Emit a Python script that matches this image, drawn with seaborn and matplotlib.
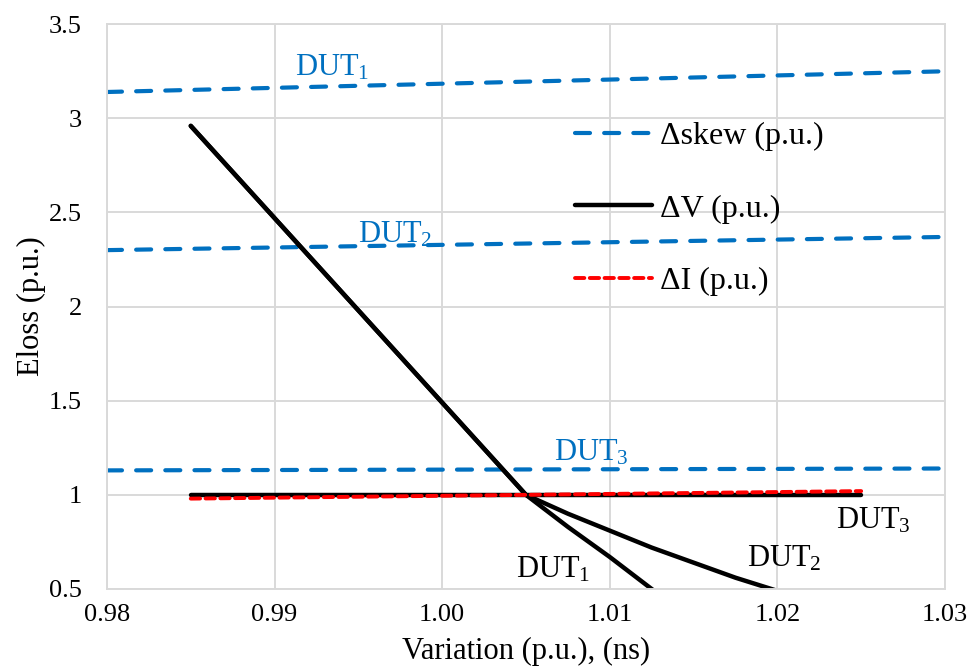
import matplotlib
matplotlib.use("Agg")
import matplotlib.pyplot as plt
from matplotlib.lines import Line2D
import seaborn as sns
import pandas as pd

# Skew sensitivity (blue dashed), one line per DUT
skew_x = [0.98, 1.03]
skew_dut1 = [3.14, 3.25]
skew_dut2 = [2.30, 2.37]
skew_dut3 = [1.13, 1.14]

# Voltage sensitivity (black solid)
v_x = [0.985, 0.99, 0.995, 1.00, 1.005, 1.0075, 1.01, 1.0125, 1.015, 1.0175, 1.02, 1.025]
v_dut1 = [2.96, 2.47, 1.98, 1.49, 1.00, 0.83, 0.67, 0.50, 0.33, None, None, None]
v_dut2 = [2.96, 2.47, 1.98, 1.49, 1.00, 0.90, 0.81, 0.72, 0.64, 0.56, 0.49, None]
v_dut3 = [1.00, 1.00, 1.00, 1.00, 1.00, 1.00, 1.00, 1.00, 1.00, 1.00, 1.00, 1.00]

# Current sensitivity (red dashed)
i_x = [0.985, 1.025]
i_vals = [0.98, 1.02]

x_ticks = [0.98, 0.99, 1.00, 1.01, 1.02, 1.03]
x_tick_labels = ["0.98", "0.99", "1.00", "1.01", "1.02", "1.03"]
y_ticks = [0.5, 1.0, 1.5, 2.0, 2.5, 3.0, 3.5]
y_tick_labels = ["0.5", "1", "1.5", "2", "2.5", "3", "3.5"]

sns.set_theme(style="white")
plt.rcParams["font.family"] = ["Liberation Serif", "DejaVu Serif"]
plt.rcParams["mathtext.fontset"] = "custom"
plt.rcParams["mathtext.rm"] = "Liberation Serif"
plt.rcParams["mathtext.it"] = "Liberation Serif:italic"
plt.rcParams["text.color"] = "black"
plt.rcParams["axes.labelcolor"] = "black"
plt.rcParams["xtick.color"] = "black"
plt.rcParams["ytick.color"] = "black"

BLUE = "#0070C0"
RED = "#FF0000"
BLACK = "#000000"
GRID = "#D9D9D9"

fig = plt.figure(figsize=(9.76, 6.69), dpi=100)
ax = fig.add_axes([0.1096, 0.1196, 0.8586, 0.8442])

def draw(xs, ys, color, dashes=None, lw=3.0):
    df = pd.DataFrame({"x": xs, "y": ys}).dropna()
    sns.lineplot(data=df, x="x", y="y", ax=ax, color=color, linewidth=lw,
                 sort=False, estimator=None)
    line = ax.lines[-1]
    if dashes is not None:
        line.set_dashes(dashes)
        line.set_dash_capstyle("round")
    line.set_solid_capstyle("round")
    line.set_solid_joinstyle("round")
    return line

blue_dash = (3.6, 3.4)
draw(skew_x, skew_dut1, BLUE, blue_dash, 3.0)
draw(skew_x, skew_dut2, BLUE, blue_dash, 3.0)
draw(skew_x, skew_dut3, BLUE, blue_dash, 3.0)

draw(v_x, v_dut3, BLACK, None, 3.2)
draw(v_x, v_dut2, BLACK, None, 3.2)
draw(v_x, v_dut1, BLACK, None, 3.2)

draw(i_x, i_vals, RED, (2.4, 1.4), 2.8)

ax.set_xlim(0.98, 1.03)
ax.set_ylim(0.5, 3.5)
ax.set_xticks(x_ticks)
ax.set_xticklabels(x_tick_labels)
ax.set_yticks(y_ticks)
ax.set_yticklabels(y_tick_labels)
ax.grid(True, color=GRID, linewidth=1.4)
ax.set_axisbelow(True)
for s in ax.spines.values():
    s.set_color(GRID)
    s.set_linewidth(1.4)
ax.tick_params(axis="both", length=0, labelsize=19)
ax.tick_params(axis="x", pad=11)
ax.tick_params(axis="y", pad=18)

ax.set_xlabel("Variation (p.u.), (ns)", fontsize=22, labelpad=8)
ax.set_ylabel("Eloss (p.u.)", fontsize=22, labelpad=2)

# Series annotations
lab_kw = dict(fontsize=22, ha="left", va="baseline")
ax.text(0.9912, 3.23, r"$\mathrm{DUT}_1$", color=BLUE, **lab_kw)
ax.text(0.9950, 2.34, r"$\mathrm{DUT}_2$", color=BLUE, **lab_kw)
ax.text(1.0067, 1.18, r"$\mathrm{DUT}_3$", color=BLUE, **lab_kw)
ax.text(1.0044, 0.56, r"$\mathrm{DUT}_1$", color=BLACK, **lab_kw)
ax.text(1.0182, 0.62, r"$\mathrm{DUT}_2$", color=BLACK, **lab_kw)
ax.text(1.0235, 0.82, r"$\mathrm{DUT}_3$", color=BLACK, **lab_kw)

handles = [
    Line2D([], [], color=BLUE, linewidth=3.0, dashes=blue_dash, dash_capstyle="round"),
    Line2D([], [], color=BLACK, linewidth=3.2),
    Line2D([], [], color=RED, linewidth=2.8, dashes=(2.4, 1.4), dash_capstyle="round"),
]
labels = ["\u0394skew (p.u.)", "\u0394V (p.u.)", "\u0394I (p.u.)"]
ax.legend(handles, labels, loc="center left", bbox_to_anchor=(0.5585, 0.673),
          frameon=False, fontsize=23, handlelength=2.4, handletextpad=0.25,
          labelspacing=1.35, borderpad=0, borderaxespad=0)

fig.savefig("out.png", dpi=100)
